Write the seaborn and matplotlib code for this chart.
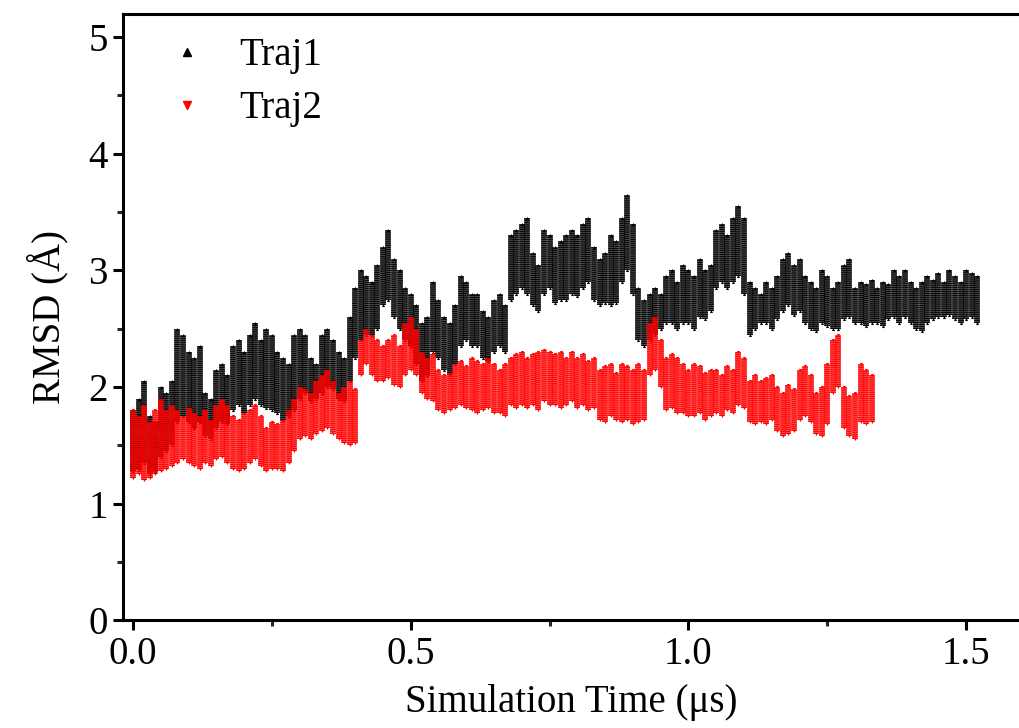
import numpy as np
import pandas as pd
import matplotlib
matplotlib.use("Agg")
import matplotlib.pyplot as plt
import seaborn as sns

# RMSD band, every 0.01 us: upper / lower edge of the dense cloud
traj1_time = np.round(np.arange(0, 153) * 0.01, 2)
traj1_hi = [1.80, 1.90, 2.05, 1.75, 1.70, 2.00, 1.95, 2.05, 2.50, 2.45,
            2.30, 2.25, 2.35, 1.95, 1.90, 2.15, 2.20, 2.10, 2.35, 2.40,
            2.30, 2.45, 2.55, 2.40, 2.50, 2.45, 2.30, 2.25, 2.20, 2.45,
            2.50, 2.45, 2.25, 2.20, 2.45, 2.50, 2.40, 2.30, 2.25, 2.60,
            2.85, 3.00, 2.95, 2.90, 3.05, 3.20, 3.35, 3.10, 3.00, 2.85,
            2.80, 2.70, 2.55, 2.60, 2.90, 2.75, 2.60, 2.55, 2.70, 2.95,
            2.90, 2.80, 2.80, 2.65, 2.60, 2.75, 2.80, 2.70, 3.30, 3.35,
            3.40, 3.45, 3.15, 3.05, 3.35, 3.30, 3.20, 3.25, 3.30, 3.35,
            3.30, 3.40, 3.45, 3.20, 3.10, 3.15, 3.30, 3.25, 3.45, 3.65,
            3.40, 2.85, 2.75, 2.80, 2.85, 2.80, 2.95, 3.00, 2.90, 3.05,
            3.00, 2.95, 3.10, 3.00, 3.05, 3.35, 3.40, 3.30, 3.45, 3.55,
            3.45, 2.90, 2.85, 2.80, 2.90, 2.85, 2.95, 3.10, 3.15, 3.05,
            3.10, 2.95, 2.90, 2.85, 3.00, 2.95, 2.85, 2.90, 3.05, 3.10,
            2.85, 2.90, 2.88, 2.92, 2.85, 2.90, 2.88, 3.00, 2.95, 3.00,
            2.90, 2.85, 2.90, 2.95, 2.92, 2.98, 2.90, 3.00, 2.95, 2.90,
            3.00, 2.98, 2.95]
traj1_lo = [1.28, 1.30, 1.35, 1.25, 1.28, 1.40, 1.45, 1.50, 1.70, 1.75,
            1.70, 1.65, 1.70, 1.58, 1.55, 1.65, 1.70, 1.68, 1.80, 1.85,
            1.78, 1.85, 1.90, 1.85, 1.82, 1.80, 1.78, 1.72, 1.75, 1.80,
            1.90, 1.95, 1.88, 1.90, 1.95, 2.00, 1.98, 1.90, 1.88, 2.05,
            2.25, 2.40, 2.45, 2.45, 2.50, 2.70, 2.75, 2.60, 2.50, 2.40,
            2.35, 2.20, 2.05, 2.10, 2.30, 2.25, 2.15, 2.10, 2.20, 2.35,
            2.40, 2.35, 2.35, 2.25, 2.22, 2.30, 2.35, 2.30, 2.75, 2.80,
            2.85, 2.80, 2.70, 2.65, 2.80, 2.85, 2.72, 2.75, 2.75, 2.80,
            2.78, 2.85, 2.90, 2.75, 2.70, 2.72, 2.70, 2.72, 2.90, 3.00,
            2.80, 2.40, 2.35, 2.40, 2.45, 2.50, 2.55, 2.55, 2.50, 2.55,
            2.55, 2.50, 2.60, 2.58, 2.65, 2.85, 2.90, 2.85, 2.90, 2.95,
            2.80, 2.45, 2.50, 2.55, 2.55, 2.50, 2.58, 2.65, 2.70, 2.62,
            2.65, 2.55, 2.50, 2.48, 2.55, 2.52, 2.50, 2.50, 2.58, 2.60,
            2.55, 2.55, 2.52, 2.55, 2.55, 2.52, 2.58, 2.60, 2.55, 2.60,
            2.55, 2.50, 2.48, 2.55, 2.58, 2.60, 2.60, 2.62, 2.58, 2.55,
            2.58, 2.60, 2.55]

traj2_time = np.round(np.arange(0, 134) * 0.01, 2)
traj2_hi = [1.80, 1.75, 1.85, 1.70, 1.80, 1.90, 1.80, 1.85, 1.80, 1.75,
            1.82, 1.78, 1.75, 1.80, 1.72, 1.85, 1.90, 1.85, 1.75, 1.72,
            1.78, 1.80, 1.85, 1.75, 1.65, 1.70, 1.68, 1.72, 1.80, 1.90,
            2.00, 1.98, 1.95, 2.05, 2.10, 2.15, 2.05, 1.95, 2.00, 2.05,
            1.98, 2.40, 2.50, 2.45, 2.40, 2.35, 2.40, 2.45, 2.35, 2.55,
            2.60, 2.50, 2.30, 2.25, 2.28, 2.15, 2.10, 2.12, 2.20, 2.22,
            2.18, 2.25, 2.22, 2.20, 2.25, 2.20, 2.15, 2.20, 2.25, 2.28,
            2.30, 2.25, 2.28, 2.30, 2.32, 2.30, 2.28, 2.30, 2.25, 2.30,
            2.25, 2.28, 2.22, 2.25, 2.15, 2.18, 2.20, 2.12, 2.20, 2.18,
            2.15, 2.20, 2.15, 2.55, 2.60, 2.40, 2.25, 2.28, 2.25, 2.20,
            2.15, 2.20, 2.18, 2.12, 2.15, 2.15, 2.10, 2.18, 2.15, 2.30,
            2.25, 2.05, 2.10, 2.05, 2.08, 2.10, 2.00, 1.95, 2.02, 1.98,
            2.15, 2.18, 2.10, 1.95, 2.00, 2.20, 2.40, 2.45, 2.00, 1.92,
            1.95, 2.20, 2.15, 2.10]
traj2_lo = [1.22, 1.25, 1.20, 1.22, 1.25, 1.28, 1.30, 1.32, 1.35, 1.38,
            1.35, 1.32, 1.30, 1.35, 1.32, 1.38, 1.40, 1.35, 1.30, 1.28,
            1.30, 1.35, 1.38, 1.32, 1.28, 1.30, 1.30, 1.28, 1.35, 1.45,
            1.55, 1.58, 1.55, 1.60, 1.62, 1.65, 1.60, 1.55, 1.52, 1.50,
            1.52, 2.10, 2.20, 2.10, 2.05, 2.05, 2.08, 2.02, 2.00, 2.10,
            2.15, 2.10, 1.95, 1.90, 1.88, 1.80, 1.78, 1.80, 1.82, 1.85,
            1.82, 1.80, 1.78, 1.80, 1.82, 1.78, 1.78, 1.75, 1.85, 1.82,
            1.85, 1.82, 1.85, 1.80, 1.88, 1.85, 1.85, 1.82, 1.85, 1.88,
            1.82, 1.85, 1.80, 1.82, 1.72, 1.70, 1.75, 1.72, 1.70, 1.72,
            1.68, 1.70, 1.72, 2.10, 2.15, 2.00, 1.80, 1.82, 1.78, 1.78,
            1.75, 1.75, 1.78, 1.72, 1.75, 1.78, 1.75, 1.80, 1.78, 1.85,
            1.82, 1.70, 1.68, 1.70, 1.68, 1.72, 1.62, 1.58, 1.60, 1.62,
            1.72, 1.75, 1.70, 1.60, 1.58, 1.68, 1.95, 2.00, 1.65, 1.58,
            1.55, 1.70, 1.68, 1.70]

series = [("Traj1", traj1_time, traj1_hi, traj1_lo, "black", "^"),
          ("Traj2", traj2_time, traj2_hi, traj2_lo, "red", "v")]

sns.set_style("ticks")
plt.rcParams['font.family'] = ['Liberation Serif', 'DejaVu Serif']
plt.rcParams['text.color'] = 'black'
plt.rcParams['axes.labelcolor'] = 'black'
plt.rcParams['lines.scale_dashes'] = False

fig = plt.figure(figsize=(10.2, 7.28), dpi=100)
ax = fig.add_axes([0.1206, 0.148, 0.8794, 0.833])

for name, t, hi, lo, col, mk in series:
    df = pd.DataFrame({"t": t, "hi": hi, "lo": lo})
    # solid core plus a speckled overlay so the band reads like a dense point cloud
    ax.vlines(df["t"], df["lo"], df["hi"], color=col, lw=4.1, alpha=0.75)
    ax.vlines(df["t"], df["lo"], df["hi"], color=col, lw=4.1,
              linestyles=(0, (0.6, 0.9)))
    pts = pd.concat([df[["t"]].assign(v=df["hi"]), df[["t"]].assign(v=df["lo"])])
    sns.scatterplot(data=pts, x="t", y="v", ax=ax, color=col, marker=mk,
                    s=5, linewidth=0, legend=False)
    ax.plot([], [], linestyle="none", marker=mk, color=col, markersize=6, label=name)

ax.set_xlim(-0.018, 1.597)
ax.set_ylim(0, 5.2)
ax.set_xticks([0.0, 0.5, 1.0, 1.5])
ax.set_xticklabels(["0.0", "0.5", "1.0", "1.5"])
ax.set_xticks([0.25, 0.75, 1.25], minor=True)
ax.set_yticks([0, 1, 2, 3, 4, 5])
ax.set_yticks([0.5, 1.5, 2.5, 3.5, 4.5], minor=True)

for s in ["left", "bottom", "top"]:
    ax.spines[s].set_linewidth(2.2)
    ax.spines[s].set_color("black")
ax.spines["right"].set_visible(False)
ax.tick_params(axis="both", which="major", direction="out", length=7, width=2.2,
               labelsize=28, colors="black", pad=4)
ax.tick_params(axis="both", which="minor", direction="out", length=4, width=2.2)
ax.tick_params(top=False, right=False, which="both")

ax.set_xlabel("Simulation Time (\u03bcs)", fontsize=28, labelpad=8)
ax.set_ylabel("RMSD (\u00c5)", fontsize=28, labelpad=14)

ax.legend(loc="upper left", bbox_to_anchor=(0.013, 1.0), frameon=False,
          fontsize=28, handletextpad=0.6, labelspacing=0.42, handlelength=1.5,
          borderaxespad=0.2)

fig.savefig("out.png", dpi=100)
